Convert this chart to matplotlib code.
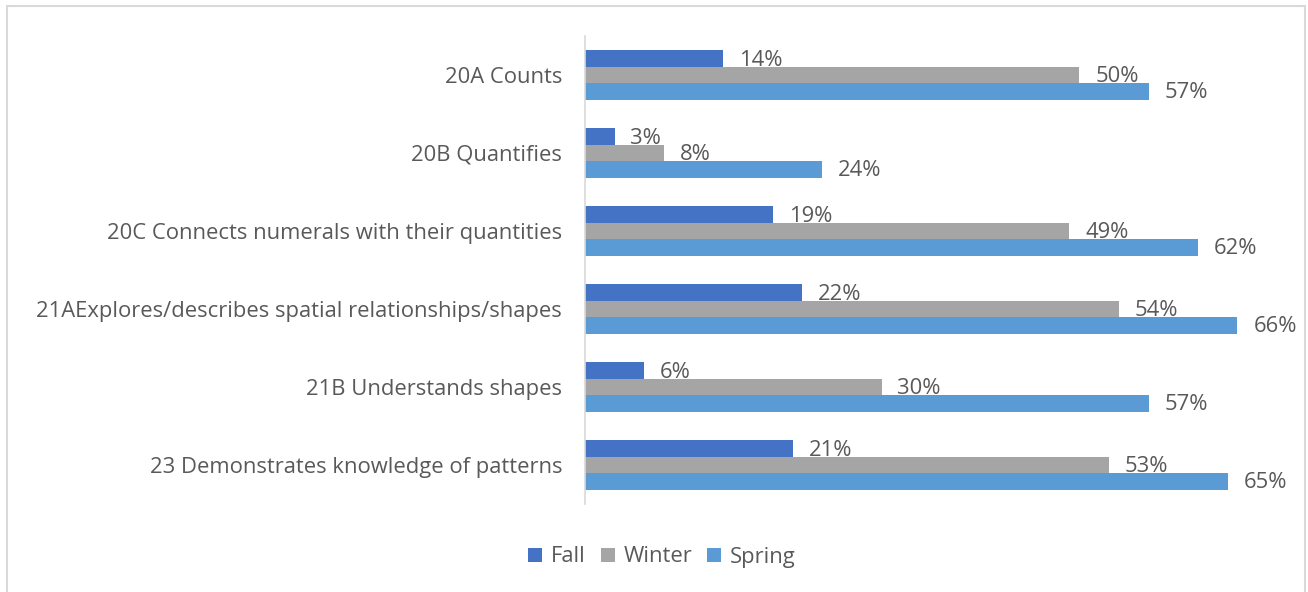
import matplotlib
matplotlib.use("Agg")
import matplotlib.pyplot as plt
import numpy as np
from matplotlib.patches import Rectangle

categories = ["20A Counts", "20B Quantifies", "20C Connects numerals with their quantities",
              "21AExplores/describes spatial relationships/shapes", "21B Understands shapes",
              "23 Demonstrates knowledge of patterns"]
fall = [14, 3, 19, 22, 6, 21]
winter = [50, 8, 49, 54, 30, 53]
spring = [57, 24, 62, 66, 57, 65]
series_names = ["Fall", "Winter", "Spring"]
colors = ["#4472C4", "#A5A5A5", "#5B9BD5"]

plt.rcParams['font.family'] = ['Open Sans', 'DejaVu Sans']
W, H = 1308, 592
fig = plt.figure(figsize=(W/100, H/100), dpi=100)
fig.patches.append(Rectangle((6.5/W, -10/H), 1 - 10/W, 1 + 4/H, transform=fig.transFigure,
                             fill=False, edgecolor="#D9D9D9", linewidth=1.5))
ax = fig.add_axes([585/W, 1 - 504/H, (1280-585)/W, (504-36)/H])

y = np.arange(len(categories))
h = 0.21
txtc = "#595959"
fs = 15.8
for i, (vals, name, c) in enumerate(zip([fall, winter, spring], series_names, colors)):
    pos = y + (i - 1) * h
    ax.barh(pos, vals, height=h, color=c, label=name)
    for p, v in zip(pos, vals):
        ax.text(v + 1.6, p + 0.02, f"{v}%", va="center", ha="left", fontsize=fs, color=txtc)

ax.set_ylim(len(categories) - 0.5, -0.5)
ax.set_xlim(0, 70.3)
ax.set_yticks(y)
ax.set_yticklabels(categories, fontsize=fs, color=txtc)
ax.tick_params(axis='y', length=0, pad=16.5)
ax.set_xticks([])
for s in ["top", "right", "bottom"]:
    ax.spines[s].set_visible(False)
ax.spines["left"].set_color("#D9D9D9")
ax.spines["left"].set_linewidth(1.2)

fig.legend(loc="center", bbox_to_anchor=(662/W, 1 - 557/H), ncol=3, frameon=False,
           fontsize=fs, handlelength=0.62, handleheight=0.62, handletextpad=0.4,
           columnspacing=0.7, labelcolor=txtc)

fig.savefig("out.png", dpi=100)
